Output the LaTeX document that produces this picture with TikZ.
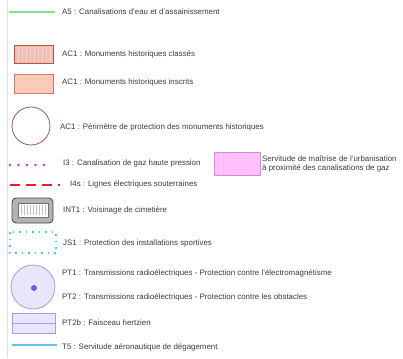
\documentclass[tikz,border=0pt]{standalone}
\usepackage{fontspec}
\setmainfont{Liberation Sans}
\usetikzlibrary{patterns}
\definecolor{txtgray}{RGB}{60,60,60}
\definecolor{aegreen}{RGB}{140,220,140}
\definecolor{monfill}{RGB}{240,192,180}
\definecolor{mondraw}{RGB}{170,85,70}
\definecolor{insfill}{RGB}{250,202,186}
\definecolor{insdraw}{RGB}{220,120,95}
\definecolor{gazpink}{RGB}{220,40,220}
\definecolor{urbfill}{RGB}{255,192,255}
\definecolor{urbdraw}{RGB}{225,130,225}
\definecolor{elecred}{RGB}{230,30,40}
\definecolor{sportcyan}{RGB}{50,215,215}
\definecolor{radfill}{RGB}{232,230,250}
\definecolor{raddraw}{RGB}{165,155,230}
\definecolor{raddot}{RGB}{110,90,225}
\definecolor{aerblue}{RGB}{100,195,230}
\tikzstyle{legText} = [anchor=west,inner sep=0pt,text=txtgray,font=\fontsize{7.9}{9.4}\selectfont]

\begin{document}
\begin{tikzpicture}[x=1pt,y=-1pt]
			\useasboundingbox (0,0) rectangle (403,358);
			\draw[gray!25,line width=0.6pt] (7,0)--(7,358);
			% A5
			\draw[aegreen,line width=1.2pt] (9,12)--(55,12);
			\node[legText] (t1) at (62,12) {A5 : Canalisations d'eau et d'assainissement};
			% AC1
			\draw[mondraw,fill=monfill,line width=0.9pt] (14,45) rectangle (53,63);
			\foreach \x in {18,22,...,50} \draw[white!35!monfill,line width=0.4pt] (\x,47)--(\x,61);
			\node[legText] (t2) at (62,54) {AC1 : Monuments historiques classés};
			\draw[insdraw,fill=insfill,line width=0.8pt] (14,74) rectangle (53,93);
			\node[legText] (t3) at (62,82) {AC1 : Monuments historiques inscrits};
			\draw[mondraw,line width=0.8pt] (31,126) circle (19);
			\node[legText] (t4) at (60,127) {AC1 : Périmètre de protection des monuments historiques};
			% I3
			\foreach \x in {10,18.5,...,52} \fill[gazpink] (\x,165) circle (1.4);
			\node[legText] (t5) at (63,163) {I3 : Canalisation de gaz haute pression};
			\draw[urbdraw,fill=urbfill,line width=0.7pt] (214,152) rectangle (260,175);
			\node[legText,align=left] (t6) at (262,164) {Servitude de maîtrise de l'urbanisation\\à proximité des canalisations de gaz};
			% I4s
			\draw[elecred,line width=1.4pt,dash pattern=on 10pt off 6pt] (10,185)--(60,185);
			\node[legText] (t7) at (70,184) {I4s : Lignes électriques souterraines};
			% INT1
			\draw[black!70,fill=black!30,line width=0.9pt,rounded corners=4pt] (12,198) rectangle (53,223);
			\draw[black!55,fill=white,line width=0.6pt] (18,203) rectangle (48,217);
			\foreach \x in {21,24,...,46} \draw[black!25,line width=0.4pt] (\x,205)--(\x,215);
			\node[legText] (t8) at (63,210) {INT1 : Voisinage de cimetière};
			% JS1
			\draw[sportcyan,line width=1.5pt,dash pattern=on 1.5pt off 5pt] (10,232) rectangle (56,253);
			\node[legText] (t9) at (63,243) {JS1 : Protection des installations sportives};
			% PT1 / PT2
			\draw[raddraw,fill=radfill,line width=0.8pt] (33,287) circle (22);
			\fill[raddot] (34,288) circle (3);
			\node[legText] (t10) at (62,273) {PT1 : Transmissions radioélectriques - Protection contre l'électromagnétisme};
			\node[legText] (t11) at (62,297) {PT2 : Transmissions radioélectriques - Protection contre les obstacles};
			% PT2b
			\draw[raddraw,fill=radfill,line width=0.8pt] (12,313) rectangle (55,333);
			\draw[raddraw,line width=0.8pt] (12,323)--(55,323);
			\node[legText] (t12) at (62,323) {PT2b : Faisceau hertzien};
			% T5
			\draw[aerblue,line width=1.3pt] (12,345)--(57,345);
			\node[legText] (t13) at (62,347) {T5 : Servitude aéronautique de dégagement};
		\end{tikzpicture}
\end{document}
